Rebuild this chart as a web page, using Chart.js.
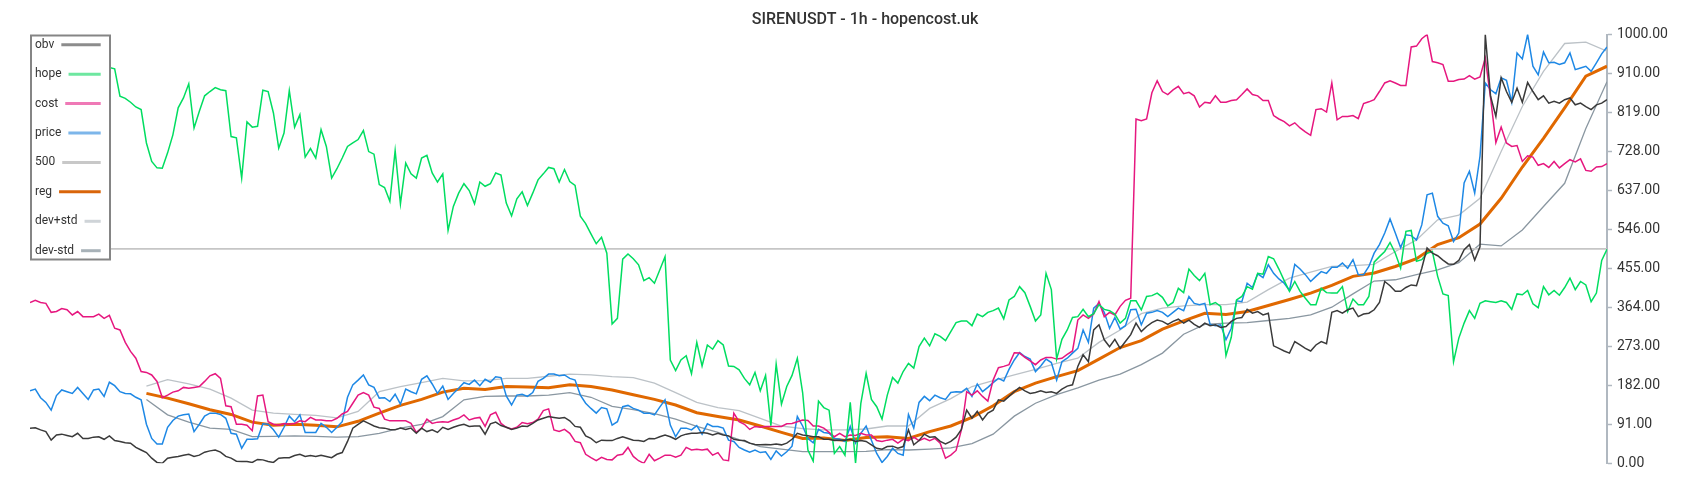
<!DOCTYPE html>
<html>
<head>
<meta charset="utf-8">
<title>SIRENUSDT - 1h - hopencost.uk</title>
<script src="https://cdn.jsdelivr.net/npm/chart.js@4.4.1/dist/chart.umd.min.js"></script>
<style>
  html, body { margin: 0; padding: 0; background: #fff; }
  #wrap { width: 1700px; height: 500px; }
</style>
</head>
<body>
<div id="wrap"><canvas id="chart" width="1700" height="500"></canvas></div>
<script>
// hourly candles, one value per candle (299 candles)
const hope = [
  925, 930, 935, 928, 920, 915, 925, 930, 926, 920, 918, 924, 928, 925, 922,
  923, 920, 856, 851, 842, 831, 825, 747, 704, 689, 688, 724, 766, 829, 852, 885, 782, 821, 857, 867, 876, 871, 869, 762, 759, 665, 796, 784, 786, 870, 867, 817, 735, 770, 869, 784, 813,
  714, 734, 712, 778, 739, 665, 687, 712, 739, 747, 755, 776, 727, 721, 650, 643, 611, 729, 605, 700, 675, 665, 712, 718, 677, 656, 675, 543, 599, 630, 652, 636, 605, 656, 646, 652, 677, 672, 607, 577, 617, 633, 601, 630, 661, 675, 690, 687, 656, 685, 657, 648, 576,
  559, 535, 512, 527, 490, 325, 338, 476, 488, 477, 463, 426, 433, 420, 451, 482, 241, 216, 241, 251, 209, 282, 227, 276, 266, 286, 276, 227, 226, 218, 198, 183, 212, 169, 205, 88, 231, 138, 179, 205, 245, 165, 31, 5, 145, 130, 124, 23, 39, 19, 142, 0, 140,
  210, 149, 132, 103, 159, 200, 187, 214, 233, 222, 272, 292, 274, 302, 296, 286, 307, 328, 332, 332, 321, 348, 342, 352, 356, 362, 337, 381, 389, 412, 398, 366, 332, 346, 443, 405, 243, 289, 311, 340, 342, 359, 342, 349, 370, 359, 356, 348, 327, 338, 379, 379,
  358, 389, 391, 397, 387, 367, 375, 408, 398, 453, 438, 426, 443, 370, 375, 366, 251, 294, 381, 389, 412, 406, 443, 441, 482, 477, 453, 426, 401, 424, 401, 385, 370, 370, 408, 398, 397, 397, 412, 354, 383, 370, 370, 389, 469, 482, 494, 515, 490, 455, 541, 543, 471,
  475, 490, 494, 436, 395, 391, 237, 292, 327, 356, 338, 373, 379, 377, 375, 379, 375, 359, 395, 393, 403, 372, 363, 412, 393, 403, 392, 410, 432, 405, 424, 416, 377, 397, 473, 499
];

const cost = [
  375, 380, 375, 373, 352, 354, 361, 358, 346, 354, 342, 342, 342, 348, 338, 345, 315, 311, 282, 261, 245, 214, 212, 206, 191, 153, 159, 166, 169, 177, 175, 177, 179, 191, 204, 209, 198, 134, 132, 91, 91, 89, 76, 157, 159, 97, 91, 89, 93, 91, 93,
  99, 97, 107, 101, 101, 99, 99, 105, 115, 121, 140, 159, 165, 159, 131, 128, 103, 99, 99, 99, 99, 93, 72, 82, 103, 93, 96, 97, 96, 101, 105, 113, 101, 105, 107, 86, 113, 119, 93, 84, 80, 84, 95, 92, 95, 103, 123, 127, 78, 74, 79, 70, 51, 48,
  21, 13, 6, 14, 9, 8, 19, 21, 37, 16, 6, 0, 21, 6, 12, 19, 19, 14, 19, 37, 31, 33, 31, 33, 19, 25, 8, 6, 117, 97, 91, 79, 86, 84, 86, 86, 86, 86, 92, 93, 97, 101, 100, 87, 87, 82, 72, 62, 70, 62, 66, 65,
  70, 66, 66, 53, 51, 54, 56, 47, 56, 53, 61, 53, 58, 53, 58, 47, 12, 19, 30, 78, 167, 159, 169, 156, 145, 194, 223, 226, 230, 258, 257, 247, 239, 230, 241, 247, 247, 243, 245, 254, 262, 334, 346, 338, 348, 377, 342, 352, 346, 366, 380, 385, 803,
  799, 803, 864, 892, 867, 860, 871, 879, 862, 865, 857, 831, 842, 840, 857, 842, 842, 846, 848, 860, 873, 860, 857, 846, 846, 811, 803, 797, 787, 794, 782, 773, 765, 825, 827, 819, 887, 801, 809, 809, 811, 804, 839, 843, 848, 867, 887, 892, 887, 881, 881, 971, 973,
  990, 1000, 937, 934, 930, 891, 891, 895, 896, 904, 896, 901, 945, 852, 748, 784, 747, 739, 741, 704, 717, 714, 695, 699, 690, 704, 689, 699, 708, 703, 710, 683, 681, 691, 692, 699
];

const price = [
  169, 173, 153, 142, 124, 158, 171, 167, 163, 177, 163, 149, 171, 173, 156, 189, 181, 167, 163, 162, 154, 148, 91, 58, 45, 45, 84, 100, 110, 113, 115, 74, 91, 110, 117, 117, 114, 105, 70, 68, 35, 56, 56, 57, 92, 91, 78, 61, 84, 110, 97, 113,
  72, 72, 72, 93, 84, 72, 84, 97, 154, 183, 194, 206, 183, 177, 152, 153, 144, 161, 138, 173, 167, 162, 196, 204, 185, 163, 180, 149, 163, 175, 188, 184, 194, 181, 196, 189, 202, 200, 157, 136, 159, 161, 156, 165, 191, 198, 208, 208, 204, 206, 198, 194, 159,
  140, 128, 117, 130, 127, 89, 97, 132, 135, 128, 124, 117, 117, 113, 131, 148, 89, 62, 82, 82, 78, 88, 68, 92, 86, 86, 82, 54, 51, 37, 31, 26, 31, 25, 27, 9, 29, 17, 27, 40, 109, 87, 58, 48, 79, 72, 70, 58, 56, 51, 86, 47, 70,
  87, 54, 23, 2, 16, 35, 23, 19, 114, 82, 142, 156, 146, 159, 153, 149, 165, 167, 166, 175, 156, 185, 167, 177, 188, 198, 192, 219, 241, 258, 249, 243, 214, 227, 243, 235, 194, 237, 245, 257, 268, 311, 282, 362, 373, 352, 315, 340, 313, 321, 358, 359,
  323, 350, 352, 356, 352, 342, 352, 362, 356, 389, 373, 370, 373, 324, 321, 323, 288, 315, 379, 377, 420, 410, 442, 433, 463, 443, 430, 420, 403, 464, 453, 440, 424, 436, 447, 443, 457, 457, 467, 455, 475, 440, 440, 459, 490, 510, 537, 570, 537, 503, 533, 531, 521,
  556, 626, 630, 576, 560, 554, 517, 537, 654, 681, 630, 716, 887, 871, 862, 899, 893, 842, 957, 943, 1000, 926, 906, 959, 934, 935, 930, 934, 957, 918, 922, 926, 914, 934, 955, 971
];

const obv = [
  82, 83, 78, 74, 54, 66, 68, 65, 62, 70, 58, 58, 61, 62, 56, 64, 53, 51, 48, 47, 37, 31, 25, 12, 2, 0, 12, 14, 16, 19, 21, 16, 19, 26, 29, 31, 26, 16, 12, 5, 4, 4, 2, 9, 8, 4, 2, 12, 13, 13, 18, 21,
  16, 18, 16, 19, 16, 13, 21, 25, 51, 82, 91, 99, 93, 87, 83, 82, 79, 78, 82, 79, 82, 70, 82, 74, 78, 72, 84, 79, 84, 88, 91, 86, 87, 87, 68, 92, 96, 88, 84, 79, 82, 87, 86, 93, 101, 105, 109, 107, 105, 107, 99, 86, 84,
  64, 58, 48, 54, 53, 53, 58, 62, 58, 54, 53, 51, 58, 57, 62, 66, 62, 56, 64, 68, 70, 70, 72, 70, 66, 70, 66, 64, 56, 54, 53, 47, 44, 43, 44, 43, 45, 43, 47, 56, 70, 66, 64, 62, 62, 56, 56, 53, 54, 54, 56, 51, 53,
  51, 43, 35, 33, 39, 40, 35, 39, 78, 43, 53, 68, 61, 62, 51, 45, 51, 61, 79, 124, 105, 121, 101, 117, 124, 148, 145, 156, 167, 177, 169, 163, 165, 169, 165, 167, 163, 173, 180, 183, 226, 253, 237, 311, 323, 288, 272, 289, 268, 284, 300, 327,
  307, 319, 328, 334, 331, 324, 331, 336, 327, 334, 324, 317, 327, 321, 323, 317, 319, 331, 338, 340, 359, 350, 354, 346, 350, 274, 268, 262, 257, 284, 276, 268, 262, 276, 284, 279, 352, 356, 350, 358, 362, 342, 348, 350, 358, 375, 424, 414, 401, 401, 410, 416, 414,
  455, 502, 490, 484, 474, 465, 464, 473, 498, 510, 474, 505, 1000, 856, 809, 899, 867, 842, 875, 842, 888, 867, 848, 857, 840, 844, 840, 848, 852, 836, 840, 832, 825, 836, 840, 848
];

// rolling lines: one value every 4 candles, starting at candle 22
const rollStart = 22;
const rollStep = 4;
const reg = [
  163, 152, 139, 125, 114, 96, 89, 91,
  89, 85, 98, 117, 135, 149, 166, 175, 172, 179, 178, 176, 183,
  179, 171, 160, 149, 136, 118, 109, 101, 87, 72, 58, 59, 53,
  60, 62, 58, 74, 87, 107, 134, 167, 187, 202, 216, 243, 270,
  286, 313, 332, 350, 347, 354, 368, 382, 397, 415, 436, 444, 459, 477,
  510, 526, 558, 618, 691, 758, 829, 903, 926
];
const devPlus = [
  180, 195, 185, 173, 152, 124, 117, 114,
  112, 106, 121, 167, 179, 188, 198, 192, 193, 198, 198, 203, 208,
  206, 202, 200, 187, 165, 142, 130, 123, 105, 87, 81, 78, 78,
  80, 87, 87, 128, 151, 179, 193, 206, 219, 233, 245, 282, 311,
  349, 362, 367, 370, 370, 376, 405, 432, 446, 459, 461, 464, 494, 521,
  568, 579, 618, 727, 832, 914, 979, 982, 961
];
const devMinus = [
  149, 113, 96, 82, 79, 62, 63, 64,
  63, 61, 62, 70, 82, 91, 109, 148, 156, 157, 157, 159, 165,
  154, 133, 125, 116, 103, 86, 72, 55, 39, 33, 27, 27, 27,
  28, 32, 31, 33, 36, 46, 68, 110, 140, 160, 176, 194, 208,
  230, 257, 301, 324, 327, 328, 333, 338, 346, 364, 395, 425, 428, 440,
  451, 468, 511, 507, 544, 599, 653, 781, 890
];

const level = 500;
const yTicks = [0, 91, 182, 273, 364, 455, 546, 637, 728, 819, 910, 1000];

const lastIdx = hope.length - 1;
const toPoints = (vals, start = 0, step = 1) => vals.map((v, j) => ({ x: start + j * step, y: v }));

const FONT = "Roboto, 'Liberation Sans', sans-serif";

// legend drawn as a white box over the top-left corner of the plot
const boxLegend = {
  id: "boxLegend",
  afterDatasetsDraw(chart) {
    const { ctx, chartArea } = chart;
    const left = chartArea.left, top = chartArea.top;
    const w = 81, h = 226;
    ctx.save();
    ctx.fillStyle = "#fff";
    ctx.fillRect(left, top, w, h);
    ctx.strokeStyle = "#858585";
    ctx.lineWidth = 2;
    ctx.strokeRect(left + 1, top + 1, w - 2, h - 2);

    ctx.font = "12px " + FONT;
    ctx.textBaseline = "middle";
    ctx.textAlign = "left";
    chart.data.datasets.forEach((ds, k) => {
      const y = top + 10.2 + k * 29.43;
      ctx.fillStyle = "#333";
      ctx.fillText(ds.label, left + 5, y);
      const tw = ctx.measureText(ds.label).width;
      ctx.strokeStyle = ds.backgroundColor;
      ctx.lineWidth = 3;
      ctx.beginPath();
      ctx.moveTo(left + 5 + tw + 7, y);
      ctx.lineTo(left + 70.7, y);
      ctx.stroke();
    });
    ctx.restore();
  }
};

const line = (label, data, color, legendColor, width) => ({
  label, data,
  borderColor: color,
  backgroundColor: legendColor,
  borderWidth: width,
  pointRadius: 0,
  tension: 0,
  fill: false
});

new Chart(document.getElementById("chart"), {
  type: "line",
  data: {
    datasets: [
      line("obv", toPoints(obv), "#3a3a3a", "#8c8c8c", 1.5),
      line("hope", toPoints(hope), "#00dd60", "#6ee7a0", 1.5),
      line("cost", toPoints(cost), "#e6177f", "#ef79b6", 1.5),
      line("price", toPoints(price), "#1e88e5", "#7db6ea", 1.5),
      line("500", [{ x: 0, y: level }, { x: lastIdx, y: level }], "#c6c6c6", "#c8c8c8", 1.8),
      line("reg", toPoints(reg, rollStart, rollStep), "#e06800", "#d9650a", 3),
      line("dev+std", toPoints(devPlus, rollStart, rollStep), "#bcc2c7", "#cfd4d8", 1.3),
      line("dev-std", toPoints(devMinus, rollStart, rollStep), "#8a97a1", "#a8b2b8", 1.3)
    ]
  },
  options: {
    responsive: false,
    animation: false,
    devicePixelRatio: 1,
    layout: { padding: { left: 30, right: 0, top: 0, bottom: 36.7 } },
    plugins: {
      legend: { display: false },
      tooltip: { enabled: false },
      title: {
        display: true,
        text: "SIRENUSDT - 1h - hopencost.uk",
        color: "#333",
        font: { family: FONT, size: 16, weight: "500" },
        padding: { top: 10.4, bottom: 4.9 }
      }
    },
    scales: {
      x: { type: "linear", display: false, min: 0, max: lastIdx },
      y: {
        position: "right",
        min: 0,
        max: 1000,
        afterBuildTicks: s => { s.ticks = yTicks.map(v => ({ value: v })); },
        afterFit: s => { s.width = 93; },
        ticks: {
          callback: v => Number(v).toFixed(2),
          color: "#333",
          font: { family: FONT, size: 14 },
          padding: 5
        },
        grid: { drawOnChartArea: false, tickLength: 5, color: "#b0b8c0", tickWidth: 1.5 },
        border: { color: "#b0b8c0", width: 2 }
      }
    }
  },
  plugins: [boxLegend]
});
</script>
</body>
</html>
